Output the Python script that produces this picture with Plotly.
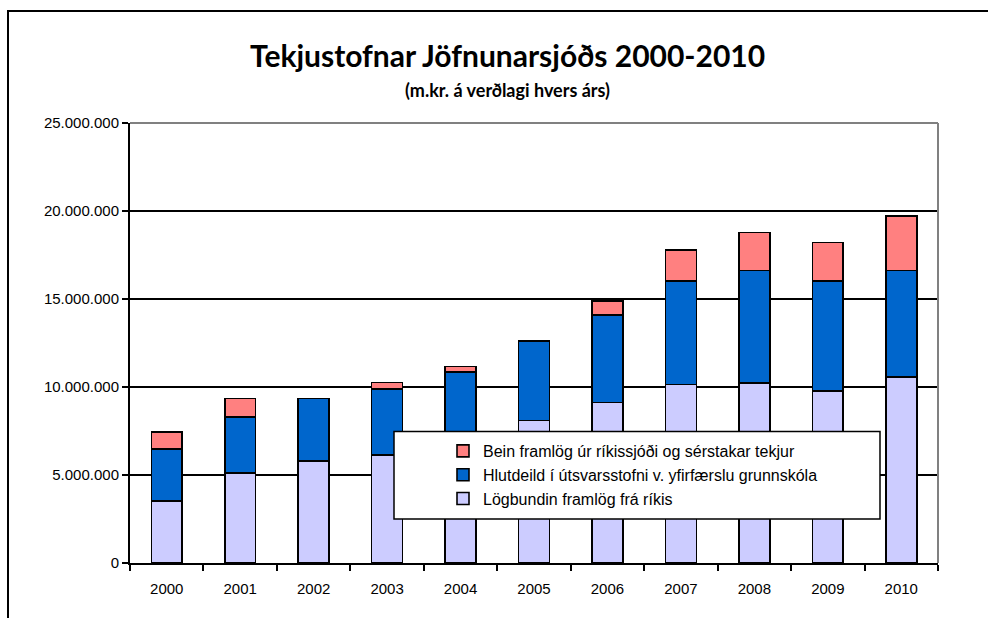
import plotly.graph_objects as go

years = ["2000", "2001", "2002", "2003", "2004", "2005", "2006", "2007", "2008", "2009", "2010"]
logbundin = [3540000, 5110000, 5800000, 6140000, 7000000, 8090000, 9120000, 10150000, 10240000, 9790000, 10580000]
hlutdeild = [2950000, 3200000, 3540000, 3750000, 3840000, 4540000, 4970000, 5890000, 6370000, 6250000, 6030000]
bein = [940000, 1030000, 0, 360000, 320000, 0, 810000, 1730000, 2180000, 2180000, 3090000]

names = ["Lögbundin framlög frá ríkis",
         "Hlutdeild í útsvarsstofni v. yfirfærslu grunnskóla",
         "Bein framlög úr ríkissjóði og sérstakar tekjur"]
colors = ["#CCCCFF", "#0066CC", "#FF8080"]
series = [logbundin, hlutdeild, bein]

title_text = "Tekjustofnar Jöfnunarsjóðs 2000-2010"
subtitle_text = "(m.kr. á verðlagi hvers árs)"
y_ticks = [0, 5000000, 10000000, 15000000, 20000000, 25000000]

fig = go.Figure()
for i, (nm, col, vals) in enumerate(zip(names, colors, series)):
    fig.add_trace(go.Bar(
        x=years, y=vals, name=nm, legendgroup=f"g{i}", legendrank=10 - i,
        marker=dict(color=col, line=dict(color="black", width=1.6)),
    ))

W, H = 988, 618
L, R, T, B = 130, 50, 123, 55
pw, ph = W - L - R, H - T - B

def px_x(p):
    return (p - L) / pw

def px_y(p):
    return (H - B - p) / ph

shapes = [
    # outer frame
    dict(type="rect", xref="paper", yref="paper",
         x0=px_x(8), x1=px_x(1010), y0=px_y(650), y1=px_y(11),
         line=dict(color="black", width=2), fillcolor="rgba(0,0,0,0)", layer="above"),
    # top and right plot-area border (gray)
    dict(type="line", xref="paper", yref="paper", x0=0, x1=1, y0=1, y1=1,
         line=dict(color="#808080", width=2), layer="above"),
    dict(type="line", xref="paper", yref="paper", x0=1, x1=1, y0=0, y1=1,
         line=dict(color="#808080", width=2), layer="above"),
    # legend box
    dict(type="rect", xref="paper", yref="paper",
         x0=px_x(394), x1=px_x(880), y0=px_y(519), y1=px_y(431.5),
         line=dict(color="black", width=1.5), fillcolor="white", layer="above"),
]

fig.update_layout(
    width=W, height=H,
    margin=dict(l=L, r=R, t=T, b=B),
    paper_bgcolor="white", plot_bgcolor="white",
    barmode="stack", bargap=0.58,
    separators=",.",
    font=dict(family="Liberation Sans, Arial, sans-serif", size=13, color="black"),
    showlegend=True,
    legend=dict(
        traceorder="grouped", tracegroupgap=0,
        x=px_x(443), xanchor="left", y=px_y(434), yanchor="top",
        bgcolor="rgba(0,0,0,0)", borderwidth=0,
        font=dict(family="Liberation Sans, Arial, sans-serif", size=16, color="black"),
    ),
    shapes=shapes,
    annotations=[
        dict(text=f"<b>{title_text}</b>", xref="paper", yref="paper",
             x=px_x(507), y=px_y(55), xanchor="center", yanchor="middle", showarrow=False,
             font=dict(family="Lato, sans-serif", size=30, color="black")),
        dict(text=f"<b>{subtitle_text}</b>", xref="paper", yref="paper",
             x=px_x(507), y=px_y(90), xanchor="center", yanchor="middle", showarrow=False,
             font=dict(family="Lato, sans-serif", size=18, color="black")),
    ],
)

fig.update_xaxes(
    type="category", showline=True, linecolor="black", linewidth=2,
    ticks="outside", tickson="boundaries", ticklen=6, tickwidth=2, tickcolor="black",
    showgrid=False, tickfont=dict(size=15), ticklabelstandoff=11,
)
fig.update_yaxes(
    range=[0, 25000000], tickvals=y_ticks, tickformat=",d",
    showline=True, linecolor="black", linewidth=2,
    ticks="outside", ticklen=6, tickwidth=2, tickcolor="black",
    showgrid=True, gridcolor="black", gridwidth=1.5,
    zeroline=False, tickfont=dict(size=15),
)

fig.write_html("out.html", post_script="document.body.style.margin='0px';",
               config={"displayModeBar": False})
